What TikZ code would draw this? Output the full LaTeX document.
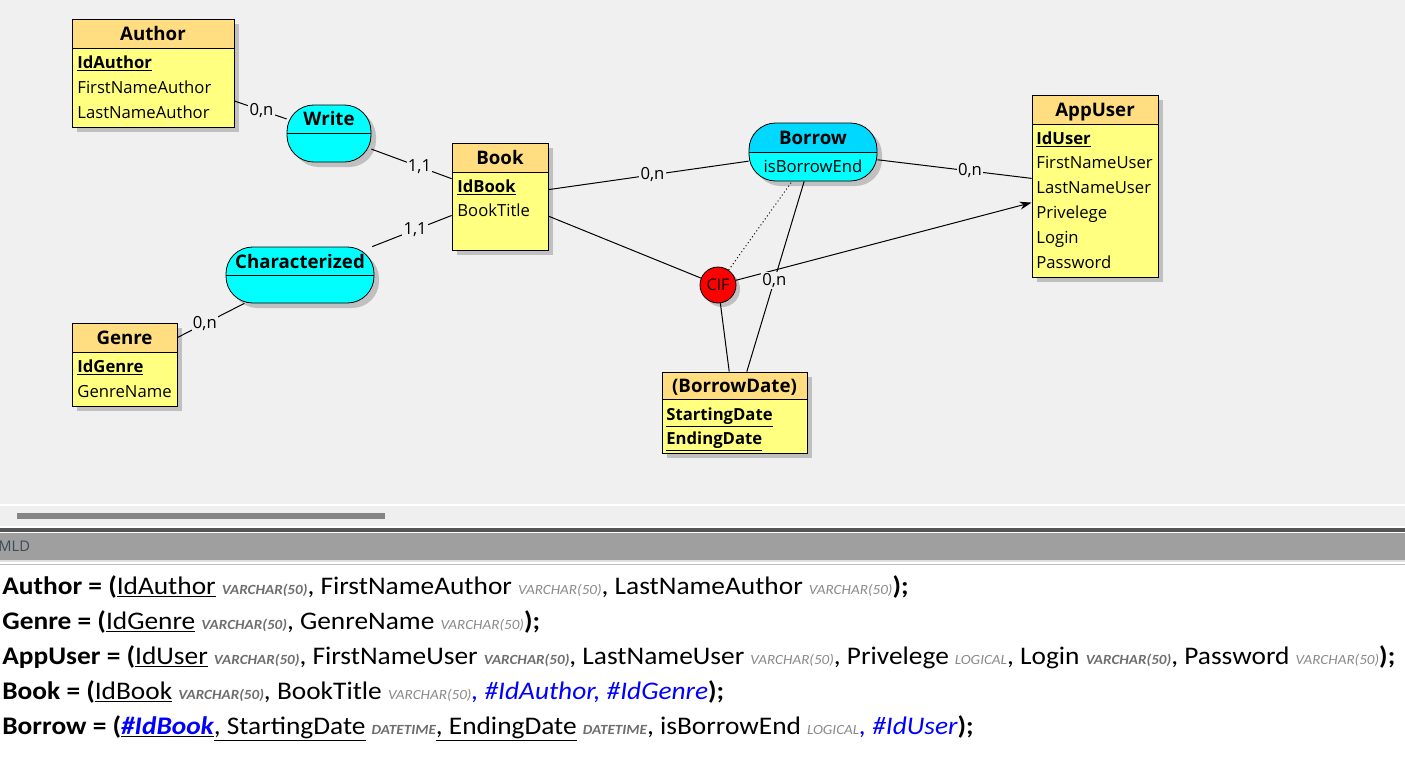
\documentclass[tikz,border=0pt]{standalone}
\usepackage{fontspec}
\setmainfont{Open Sans}
\newfontfamily\mldfont[FakeStretch=1.08]{Carlito}
\usepackage{tikz}
\usetikzlibrary{arrows.meta,shadows}

\definecolor{canvasgray}{HTML}{F0F0F0}
\definecolor{scrollbg}{HTML}{EFEFEF}
\definecolor{headorange}{HTML}{FFDD80}
\definecolor{bodyyellow}{HTML}{FFFF80}
\definecolor{assoccyan}{HTML}{00FFFF}
\definecolor{borrowcyan}{HTML}{00D8FF}
\definecolor{shadowgray}{HTML}{C0C0C0}
\definecolor{cifred}{HTML}{FF0000}
\definecolor{typegray}{HTML}{8A8A8A}
\definecolor{typedark}{HTML}{6E6E6E}
\definecolor{fkblue}{HTML}{0000FF}
\definecolor{scrollgray}{HTML}{858585}
\definecolor{bandgray}{HTML}{9E9F9E}
\definecolor{banddark}{HTML}{555555}
\definecolor{mldtext}{HTML}{3C4A5A}

\newcommand\sqltype[1]{{\fontsize{10.5}{12}\selectfont\itshape\color{typegray}#1}}
\newcommand\sqlkeytype[1]{{\fontsize{10.5}{12}\selectfont\bfseries\itshape\color{typedark}#1}}
\newcommand\sqlfk[1]{{\itshape\color{fkblue}#1}}

\begin{document}
\begin{tikzpicture}[x=0.75pt,y=-0.75pt,semithick]
        \tikzstyle{entitybody}=[
            rectangle,
            draw=black,
            fill=bodyyellow,
            drop shadow={shadow xshift=3.75pt, shadow yshift=-3.75pt, fill=shadowgray, opacity=1}
        ]
        \tikzstyle{entityhead}=[
            rectangle,
            draw=black,
            fill=headorange,
            inner sep=0pt,
            minimum height=21.75pt,
            text height=10pt,
            text depth=0pt,
            font=\fontsize{14}{16}\selectfont\bfseries
        ]
        \tikzstyle{attr}=[
            anchor=west,
            inner sep=0pt,
            text height=9pt,
            text depth=0pt,
            font=\fontsize{12.5}{15}\selectfont
        ]
        \tikzstyle{assoc}=[
            rectangle,
            rounded corners=20pt,
            draw=black,
            fill=assoccyan,
            drop shadow={shadow xshift=3.75pt, shadow yshift=-3.75pt, fill=shadowgray, opacity=1}
        ]
        \tikzstyle{assoctitle}=[
            inner sep=0pt,
            text height=10pt,
            text depth=0pt,
            font=\fontsize{14}{16}\selectfont\bfseries
        ]
        \tikzstyle{card}=[
            fill=canvasgray,
            inner sep=1pt,
            font=\fontsize{12.5}{15}\selectfont
        ]
        \tikzstyle{link}=[draw=black, line width=0.75pt]
        \tikzstyle{mldline}=[
            anchor=base west,
            inner sep=0pt,
            font=\mldfont\fontsize{19}{21}\selectfont
        ]

        \useasboundingbox (0,0) rectangle (1405,757);

        % window background, scroll bar and MLD panel
        \fill[white] (0,0) rectangle (1405,757);
        \fill[canvasgray] (0,0) rectangle (1405,504);
        \fill[scrollbg] (0,506) rectangle (1405,526);
        \fill[scrollgray] (17,513) rectangle (385,519);
        \fill[banddark] (0,528) rectangle (1405,532);
        \fill[bandgray] (0,533) rectangle (1405,560);
        \fill[black!12] (0,560) rectangle (1405,562);
        \draw[black!25] (0,564) -- (1405,564);
        \node[anchor=west, inner sep=0pt, text=mldtext, font=\fontsize{11}{13}\selectfont] (mldtitle) at (-2,546) {MLD};

        % entities
        \node[entitybody, minimum width=121.5pt, minimum height=81pt] (author) at (153,73) {};
        \node[entityhead, minimum width=121.5pt, anchor=north] (authorhead) at (author.north) {Author};
        \node[attr] (idauthor) at (77,62) {\underline{\textbf{IdAuthor}}};
        \node[attr] (firstnameauthor) at (77,87) {FirstNameAuthor};
        \node[attr] (lastnameauthor) at (77,112) {LastNameAuthor};

        \node[entitybody, minimum width=72pt, minimum height=80.25pt] (book) at (500,196.5) {};
        \node[entityhead, minimum width=72pt, anchor=north] (bookhead) at (book.north) {Book};
        \node[attr] (idbook) at (457,186) {\underline{\textbf{IdBook}}};
        \node[attr] (booktitle) at (457,210) {BookTitle};

        \node[entitybody, minimum width=78.75pt, minimum height=62.25pt] (genre) at (124.5,364.5) {};
        \node[entityhead, minimum width=78.75pt, anchor=north] (genrehead) at (genre.north) {Genre};
        \node[attr] (idgenre) at (77,366) {\underline{\textbf{IdGenre}}};
        \node[attr] (genrename) at (77,391) {GenreName};

        \node[entitybody, minimum width=94.5pt, minimum height=136.5pt] (appuser) at (1095,186) {};
        \node[entityhead, minimum width=94.5pt, anchor=north] (appuserhead) at (appuser.north) {AppUser};
        \node[attr] (iduser) at (1036,138) {\underline{\textbf{IdUser}}};
        \node[attr] (firstnameuser) at (1036,162) {FirstNameUser};
        \node[attr] (lastnameuser) at (1036,187) {LastNameUser};
        \node[attr] (privelege) at (1036,212) {Privelege};
        \node[attr] (login) at (1036,237) {Login};
        \node[attr] (password) at (1036,262) {Password};

        \node[entitybody, minimum width=108.75pt, minimum height=60.75pt] (borrowdate) at (734.5,412.5) {};
        \node[entityhead, minimum width=108.75pt, minimum height=20.25pt, anchor=north] (borrowdatehead) at (borrowdate.north) {(BorrowDate)};
        \node[attr] (startingdate) at (666,414) {\underline{\textbf{StartingDate}}};
        \node[attr] (endingdate) at (666,438) {\underline{\textbf{EndingDate}}};

        % associations
        \node[assoc, minimum width=63pt, minimum height=42.75pt] (write) at (329,133.5) {};
        \draw (write.west) -- (write.east);
        \node[assoctitle] (writetitle) at (329,119) {Write};

        \node[assoc, minimum width=111pt, minimum height=42pt] (characterized) at (300,275) {};
        \draw (characterized.west) -- (characterized.east);
        \node[assoctitle] (characterizedtitle) at (300,262) {Characterized};

        \node[assoc, minimum width=96pt, minimum height=43.5pt,
            path picture={\fill[borrowcyan, sharp corners] (path picture bounding box.north west) rectangle (path picture bounding box.east);}] (borrow) at (813,152) {};
        \draw (borrow.west) -- (borrow.east);
        \node[assoctitle] (borrowtitle) at (813,138) {Borrow};
        \node[attr, anchor=center] (isborrowend) at (813,166) {isBorrowEnd};

        \node[circle, draw=black, fill=cifred, minimum size=27pt, inner sep=0pt,
            drop shadow={shadow xshift=3pt, shadow yshift=-3pt, fill=shadowgray, opacity=1},
            font=\fontsize{12}{14}\selectfont] (cif) at (718,285) {CIF};

        % links
        \draw[link] (author) -- node[card, pos=0.52] (cardaw) {0,n} (write);
        \draw[link] (write) -- node[card, pos=0.6] (cardwb) {1,1} (book);
        \draw[link] (characterized) -- node[card, pos=0.54] (cardcb) {1,1} (book);
        \draw[link] (genre) -- node[card, pos=0.41] (cardgc) {0,n} (characterized);
        \draw[link] (book) -- node[card, pos=0.52] (cardbb) {0,n} (borrow);
        \draw[link] (borrow) -- node[card, pos=0.6] (cardba) {0,n} (appuser);
        \draw[link] (book) -- (cif);
        \draw[link, -{Stealth[length=9pt,width=6pt]}] (cif) -- (appuser);
        \draw[link, dotted] (cif) -- (borrow);
        \draw[link] (borrow) -- node[card, pos=0.52] (cardbd) {0,n} (borrowdate);
        \draw[link] (cif) -- (borrowdate);

        % MLD text
        \node[mldline] (mldauthor) at (2,594) {\textbf{Author = (}\underline{IdAuthor} \sqlkeytype{VARCHAR(50)}, FirstNameAuthor \sqltype{VARCHAR(50)}, LastNameAuthor \sqltype{VARCHAR(50)}\textbf{);}};
        \node[mldline] (mldgenre) at (2,629) {\textbf{Genre = (}\underline{IdGenre} \sqlkeytype{VARCHAR(50)}, GenreName \sqltype{VARCHAR(50)}\textbf{);}};
        \node[mldline] (mldappuser) at (2,664) {\textbf{AppUser = (}\underline{IdUser} \sqlkeytype{VARCHAR(50)}, FirstNameUser \sqlkeytype{VARCHAR(50)}, LastNameUser \sqltype{VARCHAR(50)}, Privelege \sqltype{LOGICAL}, Login \sqlkeytype{VARCHAR(50)}, Password \sqltype{VARCHAR(50)}\textbf{);}};
        \node[mldline] (mldbook) at (2,699) {\textbf{Book = (}\underline{IdBook} \sqlkeytype{VARCHAR(50)}, BookTitle \sqltype{VARCHAR(50)}\sqlfk{, \#IdAuthor, \#IdGenre}\textbf{);}};
        \node[mldline] (mldborrow) at (2,734) {\textbf{Borrow = (}\underline{\sqlfk{\textbf{\#IdBook}}}\underline{, StartingDate} \sqlkeytype{DATETIME}\underline{, EndingDate} \sqlkeytype{DATETIME}, isBorrowEnd \sqltype{LOGICAL}\sqlfk{, \#IdUser}\textbf{);}};

    \end{tikzpicture}
\end{document}
